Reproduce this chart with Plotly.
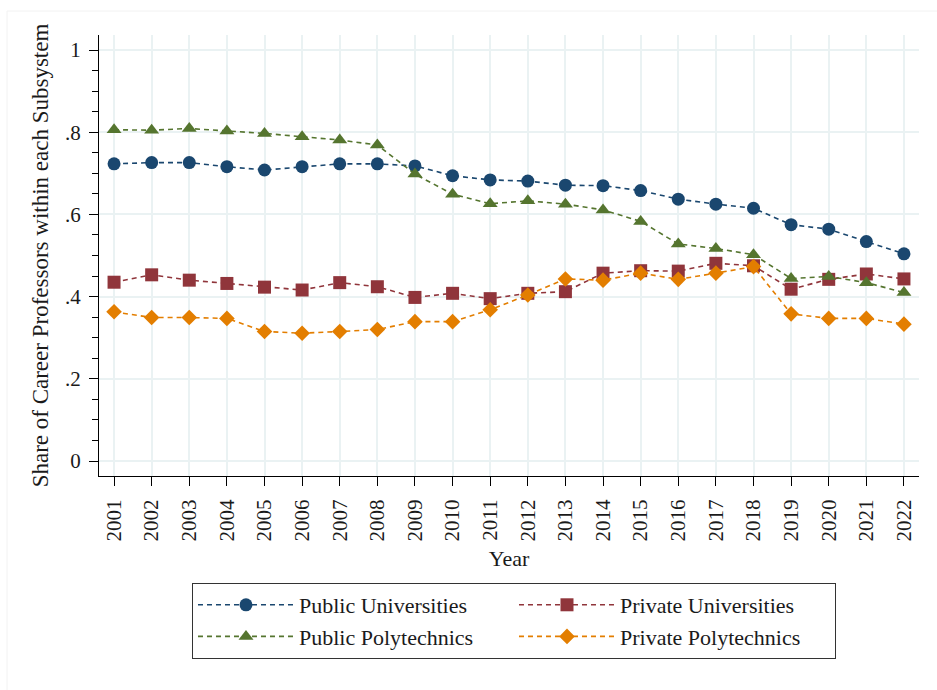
import plotly.graph_objects as go

# Share of career professors by subsystem, 2001-2022
years = list(range(2001, 2023))

public_universities = [0.723, 0.726, 0.726, 0.716, 0.708, 0.716, 0.723, 0.723, 0.718, 0.694, 0.684,
                       0.681, 0.671, 0.670, 0.658, 0.637, 0.625, 0.615, 0.575, 0.564, 0.534, 0.504]
private_universities = [0.435, 0.453, 0.440, 0.432, 0.423, 0.416, 0.434, 0.424, 0.398, 0.408, 0.395,
                        0.408, 0.412, 0.457, 0.463, 0.462, 0.481, 0.475, 0.418, 0.442, 0.455, 0.443]
public_polytechnics = [0.806, 0.805, 0.809, 0.803, 0.797, 0.789, 0.781, 0.769, 0.698, 0.649, 0.626,
                       0.633, 0.625, 0.611, 0.583, 0.528, 0.517, 0.502, 0.444, 0.449, 0.434, 0.410]
private_polytechnics = [0.363, 0.349, 0.349, 0.347, 0.315, 0.311, 0.315, 0.320, 0.339, 0.339, 0.368,
                        0.404, 0.443, 0.440, 0.457, 0.442, 0.457, 0.473, 0.358, 0.347, 0.347, 0.333]

y_tick_vals = [0, 0.2, 0.4, 0.6, 0.8, 1]
y_tick_text = ["0", ".2", ".4", ".6", ".8", "1"]

FONT = "Liberation Serif, Times New Roman, serif"
GRID = "#eaf2f3"

series = [
    ("Public Universities", public_universities, "#1a476f", "circle", 13),
    ("Private Universities", private_universities, "#90353b", "square", 13),
    ("Public Polytechnics", public_polytechnics, "#55752f", "triangle-up", 13),
    ("Private Polytechnics", private_polytechnics, "#e37e00", "diamond", 12),
]

fig = go.Figure()
for name, vals, color, symbol, size in series:
    fig.add_trace(go.Scatter(
        x=years, y=vals, name=name, mode="lines+markers",
        line=dict(color=color, width=1.6, dash="5px,4px"),
        marker=dict(symbol=symbol, size=size, color=color, line=dict(width=0)),
    ))

fig.update_layout(
    width=937, height=690,
    margin=dict(l=99, r=18, t=35, b=214),
    paper_bgcolor="white", plot_bgcolor="white",
    font=dict(family=FONT, color="#1a1a1a", size=21),
    showlegend=True,
    legend=dict(
        orientation="h", x=0.1134, y=-0.2426, xanchor="left", yanchor="top",
        entrywidth=210, entrywidthmode="pixels",
        bordercolor="#333333", borderwidth=1, bgcolor="white",
        font=dict(family=FONT, size=22, color="#1a1a1a"),
        itemwidth=96, tracegroupgap=0,
    ),
)

fig.update_xaxes(
    range=[2000.6, 2022.4],
    tickmode="array", tickvals=years, ticktext=[str(y) for y in years],
    tickangle=-90, ticks="outside", ticklen=9, tickwidth=1.3, tickcolor="black",
    ticklabelstandoff=5,
    showgrid=True, gridcolor=GRID, gridwidth=2,
    showline=True, linecolor="black", linewidth=1.3, zeroline=False,
    tickfont=dict(family=FONT, size=21),
    title=dict(text="Year", font=dict(family=FONT, size=22), standoff=10),
)

fig.update_yaxes(
    range=[-0.0365, 1.0365],
    tickmode="array", tickvals=y_tick_vals, ticktext=y_tick_text,
    ticks="outside", ticklen=9, tickwidth=1.3, tickcolor="black",
    ticklabelstandoff=4,
    minor=dict(tick0=0, dtick=0.05, ticks="outside", ticklen=6, tickwidth=1.3,
               tickcolor="black", showgrid=False),
    showgrid=True, gridcolor=GRID, gridwidth=2,
    showline=True, linecolor="black", linewidth=1.3, zeroline=False,
    tickfont=dict(family=FONT, size=21),
    title=dict(text="Share of Career Professors within each Subsystem",
               font=dict(family=FONT, size=23), standoff=9),
)

# faint outer frame of the graph region
fig.add_shape(type="rect", xref="paper", yref="paper",
              x0=-92 / 820, x1=1 + 30 / 820, y0=-230 / 441, y1=1 + 24 / 441,
              line=dict(color="#f2f2f2", width=1), layer="below")

fig.write_html("out.html")
